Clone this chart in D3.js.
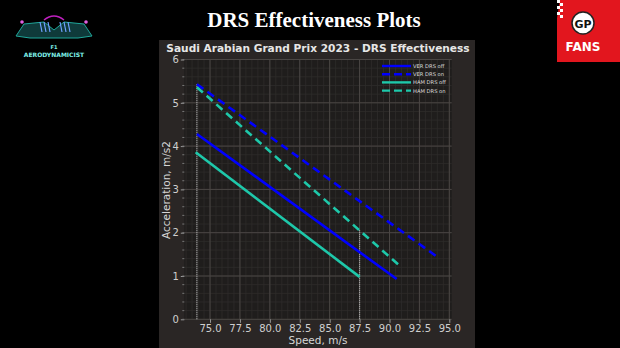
<!DOCTYPE html>
<html>
<head>
<meta charset="utf-8">
<script src="https://cdn.jsdelivr.net/npm/d3@7"></script>
<style>
  body { margin: 0; background: #000; }
  svg { display: block; }
</style>
</head>
<body>
<div id="chart"></div>
<script>
"use strict";

// linear fits, start and end points of each run
const series = ["VER DRS off", "VER DRS on", "HAM DRS off", "HAM DRS on"];
const speedStart = [73.9, 73.9, 73.8, 73.9];
const speedEnd = [90.6, 94.1, 87.5, 90.8];
const accelStart = [4.28, 5.43, 3.86, 5.36];
const accelEnd = [0.93, 1.42, 0.98, 1.25];
const colors = ["#0000ff", "#0000ff", "#1ec8aa", "#1ec8aa"];
const dashed = [false, true, false, true];

// dotted markers: speed, top acceleration
const markerSpeed = [73.9, 87.5];
const markerTop = [5.43, 2.06];

const xTicks = [75, 77.5, 80, 82.5, 85, 87.5, 90, 92.5, 95];
const yTicks = [0, 1, 2, 3, 4, 5, 6];

const W = 620, H = 348;
const svg = d3.select("#chart").append("svg").attr("width", W).attr("height", H);
svg.append("rect").attr("width", W).attr("height", H).attr("fill", "#000");

// page title
svg.append("text")
  .attr("x", 314).attr("y", 27)
  .attr("text-anchor", "middle")
  .attr("font-family", "Liberation Serif, serif")
  .attr("font-weight", "bold")
  .attr("font-size", 21)
  .attr("fill", "#fff")
  .text("DRS Effectiveness Plots");

// figure panel
svg.append("rect")
  .attr("x", 159).attr("y", 40).attr("width", 316).attr("height", 308)
  .attr("fill", "#2a2625");

const pLeft = 184.3, pRight = 451.7, pTop = 59.5, pBottom = 319.3;
const x = d3.scaleLinear().domain([72.85, 95.2]).range([pLeft, pRight]);
const y = d3.scaleLinear().domain([0, 6]).range([pBottom, pTop]);

svg.append("rect")
  .attr("x", pLeft).attr("y", pTop).attr("width", pRight - pLeft).attr("height", pBottom - pTop)
  .attr("fill", "#1f1d1c");

const grid = svg.append("g");
// minor grid
grid.selectAll(".mx").data(d3.range(73, 95.2, 0.5)).enter().append("line")
  .attr("x1", (d) => x(d)).attr("x2", (d) => x(d))
  .attr("y1", pTop).attr("y2", pBottom)
  .attr("stroke", "#2f2c2b").attr("stroke-width", 0.8);
grid.selectAll(".my").data(d3.range(0, 6.01, 0.2)).enter().append("line")
  .attr("x1", pLeft).attr("x2", pRight)
  .attr("y1", (d) => y(d)).attr("y2", (d) => y(d))
  .attr("stroke", "#2f2c2b").attr("stroke-width", 0.8);
// major grid
grid.selectAll(".gx").data(xTicks).enter().append("line")
  .attr("x1", (d) => x(d)).attr("x2", (d) => x(d))
  .attr("y1", pTop).attr("y2", pBottom)
  .attr("stroke", "#4a4644").attr("stroke-width", 1);
grid.selectAll(".gy").data(yTicks).enter().append("line")
  .attr("x1", pLeft).attr("x2", pRight)
  .attr("y1", (d) => y(d)).attr("y2", (d) => y(d))
  .attr("stroke", "#4a4644").attr("stroke-width", 1);

// axes
const xAxis = svg.append("g")
  .attr("transform", `translate(0,${pBottom})`)
  .call(d3.axisBottom(x).tickValues(xTicks).tickFormat(d3.format(".1f")).tickSize(3.5).tickPadding(2));
const yAxis = svg.append("g")
  .attr("transform", `translate(${pLeft},0)`)
  .call(d3.axisLeft(y).tickValues(yTicks).tickFormat(d3.format("d")).tickSize(3.5).tickPadding(2));
[xAxis, yAxis].forEach((a) => {
  a.select(".domain").remove();
  a.selectAll("line").attr("stroke", "#999");
  a.selectAll("text")
    .attr("fill", "#cfcfcf")
    .attr("font-family", "DejaVu Sans, sans-serif")
    .attr("font-size", 10);
});
yAxis.selectAll(".minor").data(d3.range(0, 6.01, 0.2)).enter().append("line")
  .attr("x1", -2).attr("x2", 0)
  .attr("y1", (d) => y(d)).attr("y2", (d) => y(d))
  .attr("stroke", "#777");

// dotted markers
svg.selectAll(".marker").data(markerSpeed).enter().append("line")
  .attr("x1", (d) => x(d)).attr("x2", (d) => x(d))
  .attr("y1", y(0)).attr("y2", (d, i) => y(markerTop[i]))
  .attr("stroke", "#bbb").attr("stroke-width", 1.2)
  .attr("stroke-dasharray", "1,1");

// fit lines
const line = d3.line().x((d) => x(d[0])).y((d) => y(d[1]));
series.forEach((name, i) => {
  svg.append("path")
    .attr("d", line([[speedStart[i], accelStart[i]], [speedEnd[i], accelEnd[i]]]))
    .attr("fill", "none")
    .attr("stroke", colors[i])
    .attr("stroke-width", 2.6)
    .attr("stroke-dasharray", dashed[i] ? "8,5" : null);
});

// legend
const legend = svg.append("g").attr("transform", "translate(382,66)");
series.forEach((name, i) => {
  const g = legend.append("g").attr("transform", `translate(0,${i * 8.2})`);
  g.append("line")
    .attr("x1", 0).attr("x2", 29).attr("y1", 0).attr("y2", 0)
    .attr("stroke", colors[i]).attr("stroke-width", 2.4)
    .attr("stroke-dasharray", dashed[i] ? "8,4" : null);
  g.append("text")
    .attr("x", 31).attr("y", 2)
    .attr("fill", "#ddd")
    .attr("font-family", "DejaVu Sans, sans-serif")
    .attr("font-size", 5.2)
    .text(name);
});

// titles
svg.append("text")
  .attr("x", 318).attr("y", 52)
  .attr("text-anchor", "middle")
  .attr("font-family", "DejaVu Sans, sans-serif")
  .attr("font-weight", "bold")
  .attr("font-size", 10.6)
  .attr("fill", "#e6e6e6")
  .text("Saudi Arabian Grand Prix 2023 - DRS Effectiveness");
svg.append("text")
  .attr("x", 318).attr("y", 344)
  .attr("text-anchor", "middle")
  .attr("font-family", "DejaVu Sans, sans-serif")
  .attr("font-size", 10.5)
  .attr("fill", "#d6d6d6")
  .text("Speed, m/s");
svg.append("text")
  .attr("transform", "translate(170,190) rotate(-90)")
  .attr("text-anchor", "middle")
  .attr("font-family", "DejaVu Sans, sans-serif")
  .attr("font-size", 10.5)
  .attr("fill", "#d6d6d6")
  .text("Acceleration, m/s2");

// left logo (rough)
const logo = svg.append("g");
logo.append("path")
  .attr("d", "M16,36 L24,24 L44,22 L54,30 L64,22 L84,24 L92,36 L78,38 L30,38 Z")
  .attr("fill", "#0f3a3a").attr("stroke", "#1fa79a").attr("stroke-width", 1);
logo.append("path")
  .attr("d", "M44,20 Q54,12 64,20")
  .attr("fill", "none").attr("stroke", "#c020c0").attr("stroke-width", 1.5);
[40, 44, 48, 60, 64, 68].forEach((px) => {
  logo.append("line")
    .attr("x1", px).attr("x2", px + 2).attr("y1", 22).attr("y2", 32)
    .attr("stroke", "#6fa0ff").attr("stroke-width", 1.2);
});
logo.append("circle").attr("cx", 22).attr("cy", 22).attr("r", 1.8).attr("fill", "#e060e0");
logo.append("circle").attr("cx", 86).attr("cy", 22).attr("r", 1.8).attr("fill", "#e060e0");
logo.append("text")
  .attr("x", 54).attr("y", 49).attr("text-anchor", "middle")
  .attr("font-family", "DejaVu Sans, sans-serif").attr("font-weight", "bold")
  .attr("font-size", 5).attr("fill", "#7ff0e8").text("F1");
logo.append("text")
  .attr("x", 54).attr("y", 57).attr("text-anchor", "middle")
  .attr("font-family", "DejaVu Sans, sans-serif").attr("font-weight", "bold")
  .attr("font-size", 6).attr("fill", "#7ff0e8").text("AERODYNAMICIST");

// right logo (rough)
const gp = svg.append("g");
gp.append("path").attr("d", "M560,0 L620,0 L620,62 L557,62 L557,18 Z").attr("fill", "#e2161e");
for (let r = 0; r < 6; r++) {
  gp.append("rect").attr("x", 557 + (r % 2) * 3).attr("y", r * 3).attr("width", 3).attr("height", 3).attr("fill", "#fff");
}
gp.append("circle").attr("cx", 583).attr("cy", 23).attr("r", 11).attr("fill", "#fff").attr("stroke", "#222").attr("stroke-width", 1.5);
gp.append("text")
  .attr("x", 583).attr("y", 27.5).attr("text-anchor", "middle")
  .attr("font-family", "DejaVu Sans, sans-serif").attr("font-weight", "bold")
  .attr("font-size", 11).attr("fill", "#111").text("GP");
gp.append("text")
  .attr("x", 583).attr("y", 51).attr("text-anchor", "middle")
  .attr("font-family", "DejaVu Sans, sans-serif").attr("font-weight", "bold")
  .attr("font-size", 12).attr("fill", "#fff").text("FANS");
</script>
</body>
</html>
